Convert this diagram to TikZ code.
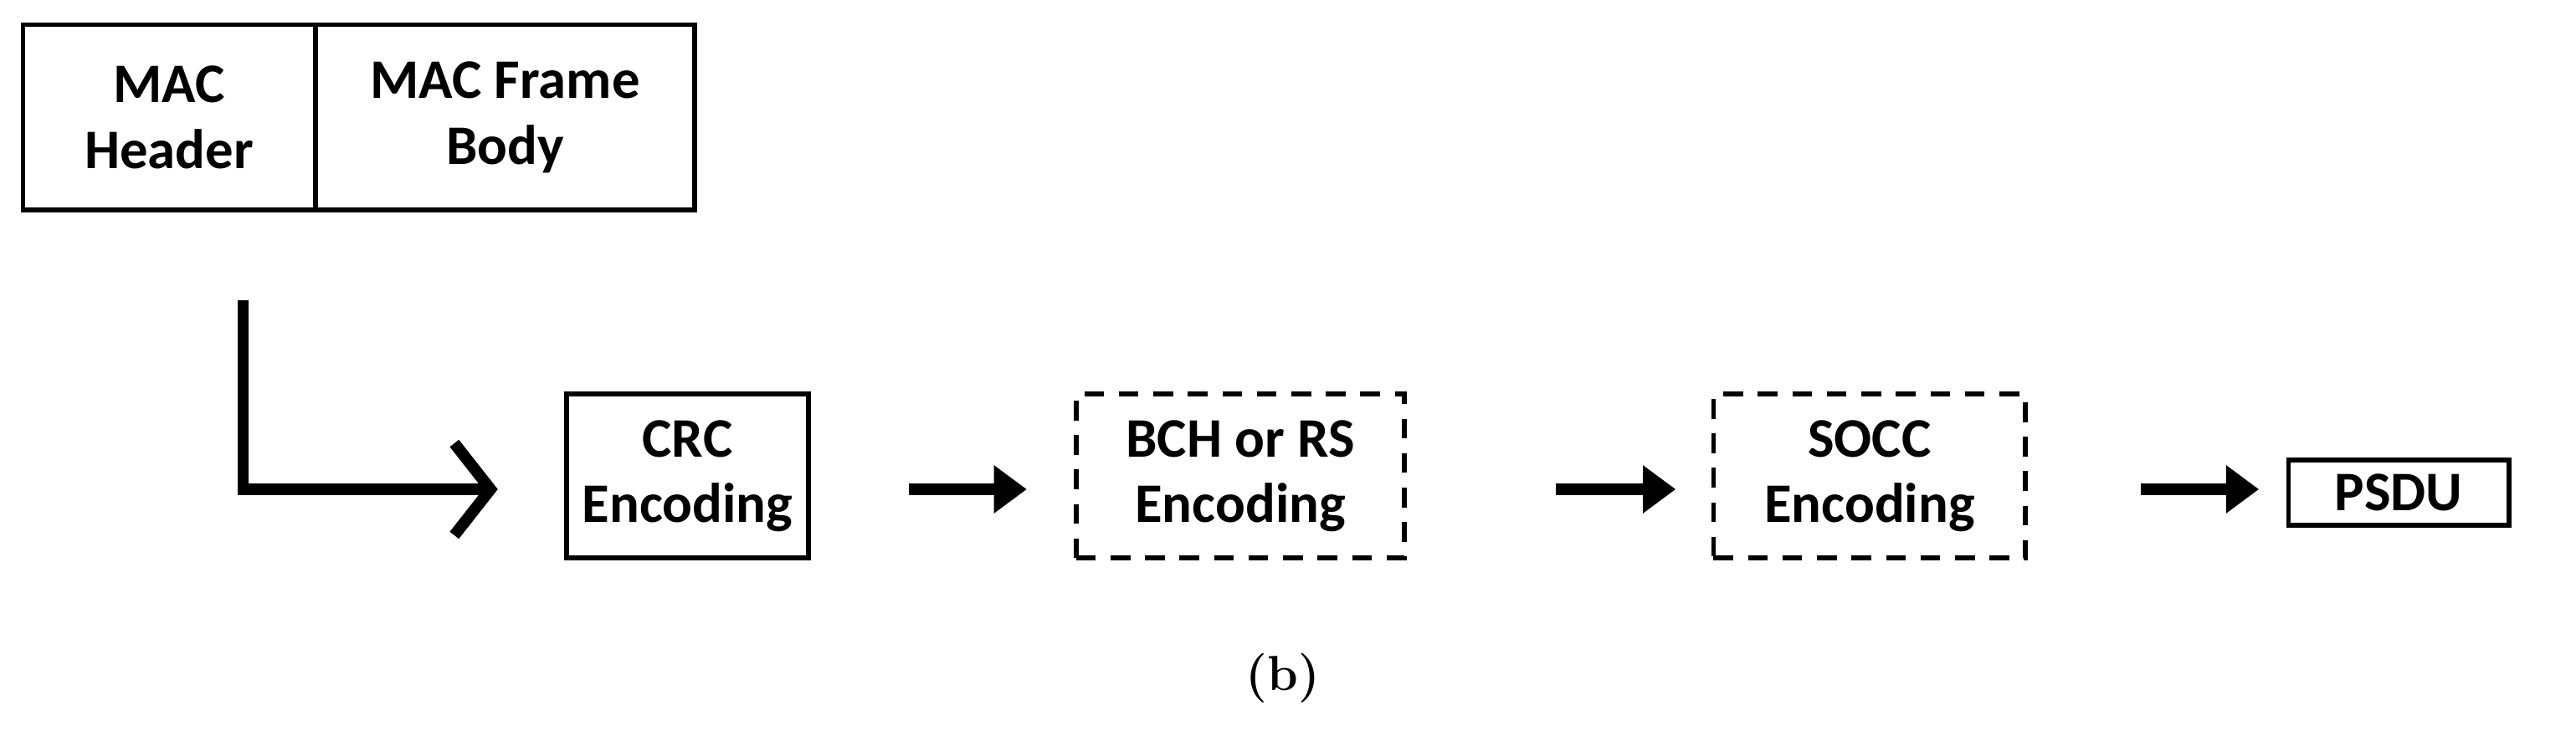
\documentclass[tikz,border=0pt]{standalone}
\usepackage{fontspec}
\setmainfont{Carlito}
\newfontfamily\lmfont{Latin Modern Roman}
\usetikzlibrary{arrows.meta}
\begin{document}
\begin{tikzpicture}[x=1pt,y=-1pt,
  box/.style={draw,line width=3pt,minimum height=#1,align=center,font=\fontsize{34}{40}\selectfont\bfseries,inner sep=0pt},
  dbox/.style={box=#1,dashed,dash pattern=on 12pt off 9pt},
  flow/.style={line width=7pt,-{Triangle[length=20pt,width=28pt]}}]
\useasboundingbox (0,0) rectangle (1568,445);
\node[box=113pt,minimum width=178pt] (mh) at (103,71.5) {MAC\\Header};
\node[box=113pt,minimum width=231pt] (mb) at (307.5,71.5) {MAC Frame\\Body};
\node[box=100pt,minimum width=147pt] (crc) at (418.5,290) {CRC\\Encoding};
\node[dbox=100pt,minimum width=200pt] (bch) at (755,290) {BCH or RS\\Encoding};
\node[dbox=100pt,minimum width=190pt] (socc) at (1138,290) {SOCC\\Encoding};
\node[box=40pt,minimum width=134pt] (psdu) at (1460,300) {PSDU};
\node[font=\lmfont\fontsize{30}{36}\selectfont\bfseries] (lab) at (781,413) {(b)};
\coordinate (s0) at (148,183);
\coordinate (c0) at (148,298);
\coordinate (e0) at (303,298);
\draw[line width=7pt,-{Straight Barb[length=22pt,width=56pt,line width=7pt]}] (s0) -- (c0) -- (e0);
\coordinate (a1) at (553,298); \coordinate (b1) at (625,298);
\coordinate (a2) at (947,298); \coordinate (b2) at (1020,298);
\coordinate (a3) at (1303,298); \coordinate (b3) at (1375,298);
\draw[flow] (a1) -- (b1);
\draw[flow] (a2) -- (b2);
\draw[flow] (a3) -- (b3);
\end{tikzpicture}
\end{document}
